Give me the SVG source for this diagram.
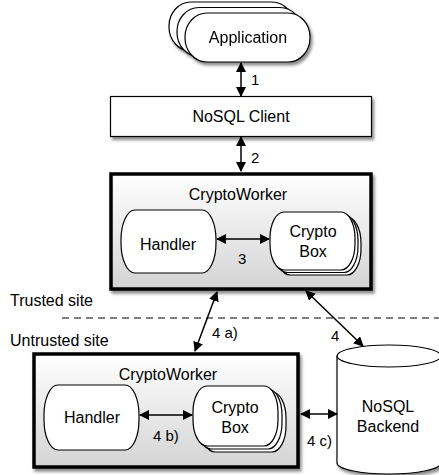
<svg xmlns="http://www.w3.org/2000/svg" width="439" height="475" viewBox="0 0 439 475">
<defs>
<linearGradient id="gw" x1="0" y1="0" x2="0" y2="1">
<stop offset="0" stop-color="#ffffff"/>
<stop offset="1" stop-color="#d4d4d4"/>
</linearGradient>
<filter id="sh" x="-10%" y="-10%" width="125%" height="130%">
<feDropShadow dx="2" dy="3" stdDeviation="1.5" flood-color="#000" flood-opacity="0.45"/>
</filter>
<marker id="ah" viewBox="0 0 10 10" refX="9" refY="5" markerWidth="10" markerHeight="10" markerUnits="userSpaceOnUse" orient="auto-start-reverse">
<path d="M0,0 L10,5 L0,10 z" fill="#000"/>
</marker>
</defs>
<style>
text{font-family:"Liberation Sans",Arial,Helvetica,sans-serif;fill:#000}
.t{font-size:16px;text-anchor:middle}
.l{font-size:15px}
.w{fill:#fff;stroke:#000;stroke-width:1.2}
.cw{fill:url(#gw);stroke:#000;stroke-width:3.5}
.c{fill:none;stroke:#000;stroke-width:1.5;marker-start:url(#ah);marker-end:url(#ah)}
</style>

<g id="application" filter="url(#sh)">
<rect class="w" x="169" y="2" width="125" height="49" rx="22" ry="24"/>
<rect class="w" x="177" y="7.5" width="125" height="49" rx="22" ry="24"/>
<rect class="w" x="185" y="13" width="125" height="49" rx="22" ry="24"/>
<text class="t" x="248" y="43">Application</text>
</g>

<g id="nosql-client">
<rect class="w" x="110.5" y="96.5" width="261" height="40" filter="url(#sh)"/>
<text class="t" x="241" y="122">NoSQL Client</text>
</g>

<g id="trust-boundary">
<line x1="62" y1="318" x2="439" y2="318" stroke="#000" stroke-width="1.2" stroke-dasharray="7,5"/>
<text class="t" x="10" y="306" style="text-anchor:start">Trusted site</text>
<text class="t" x="10" y="346" style="text-anchor:start">Untrusted site</text>
</g>

<g id="cryptoworker-trusted">
<rect class="cw" x="111" y="174" width="260" height="115" filter="url(#sh)"/>
<text class="t" x="238" y="200">CryptoWorker</text>
</g>

<g id="handler-trusted">
<rect class="w" x="121" y="210" width="95" height="63" rx="14" ry="30"/>
<text class="t" x="168" y="250">Handler</text>
</g>

<g id="cryptobox-trusted">
<rect class="w" x="276" y="217" width="85" height="58" rx="14" ry="26"/>
<rect class="w" x="273" y="214.5" width="85" height="58" rx="14" ry="26"/>
<rect class="w" x="270" y="212" width="85" height="58" rx="14" ry="26"/>
<text class="t" x="313" y="237">Crypto</text>
<text class="t" x="313" y="257">Box</text>
</g>

<g id="cryptoworker-untrusted">
<rect class="cw" x="34" y="354" width="264" height="113" filter="url(#sh)"/>
<text class="t" x="168" y="380">CryptoWorker</text>
</g>

<g id="handler-untrusted">
<rect class="w" x="44" y="385" width="95" height="65" rx="14" ry="30"/>
<text class="t" x="92" y="423">Handler</text>
</g>

<g id="cryptobox-untrusted">
<rect class="w" x="201" y="392" width="85" height="60" rx="14" ry="26"/>
<rect class="w" x="197" y="389" width="85" height="60" rx="14" ry="26"/>
<rect class="w" x="193" y="386" width="85" height="60" rx="14" ry="26"/>
<text class="t" x="235" y="413">Crypto</text>
<text class="t" x="235" y="433">Box</text>
</g>

<g id="nosql-backend">
<path class="w" filter="url(#sh)" d="M337,356 A52,11 0 0 1 441,356 L441,463 A52,11 0 0 1 337,463 Z"/>
<path d="M337,356 A52,11 0 0 0 441,356" fill="none" stroke="#000" stroke-width="1.2"/>
<text class="t" x="388" y="412">NoSQL</text>
<text class="t" x="388" y="432">Backend</text>
</g>

<g id="connectors">
<line class="c" x1="241" y1="63" x2="241" y2="96"/>
<line class="c" x1="241" y1="137" x2="241" y2="171"/>
<line class="c" x1="217" y1="239" x2="269" y2="239"/>
<line class="c" x1="217" y1="292" x2="195" y2="351"/>
<line class="c" x1="306" y1="291" x2="363" y2="346"/>
<line class="c" x1="140" y1="415" x2="192" y2="415"/>
<line class="c" x1="301" y1="414" x2="337" y2="414"/>
</g>

<g id="labels">
<text class="l" x="251" y="85">1</text>
<text class="l" x="251" y="163">2</text>
<text class="l" x="238" y="264">3</text>
<text class="l" x="212" y="338">4 a)</text>
<text class="l" x="331" y="341">4</text>
<text class="l" x="153" y="441">4 b)</text>
<text class="l" x="307" y="446">4 c)</text>
</g>
</svg>
